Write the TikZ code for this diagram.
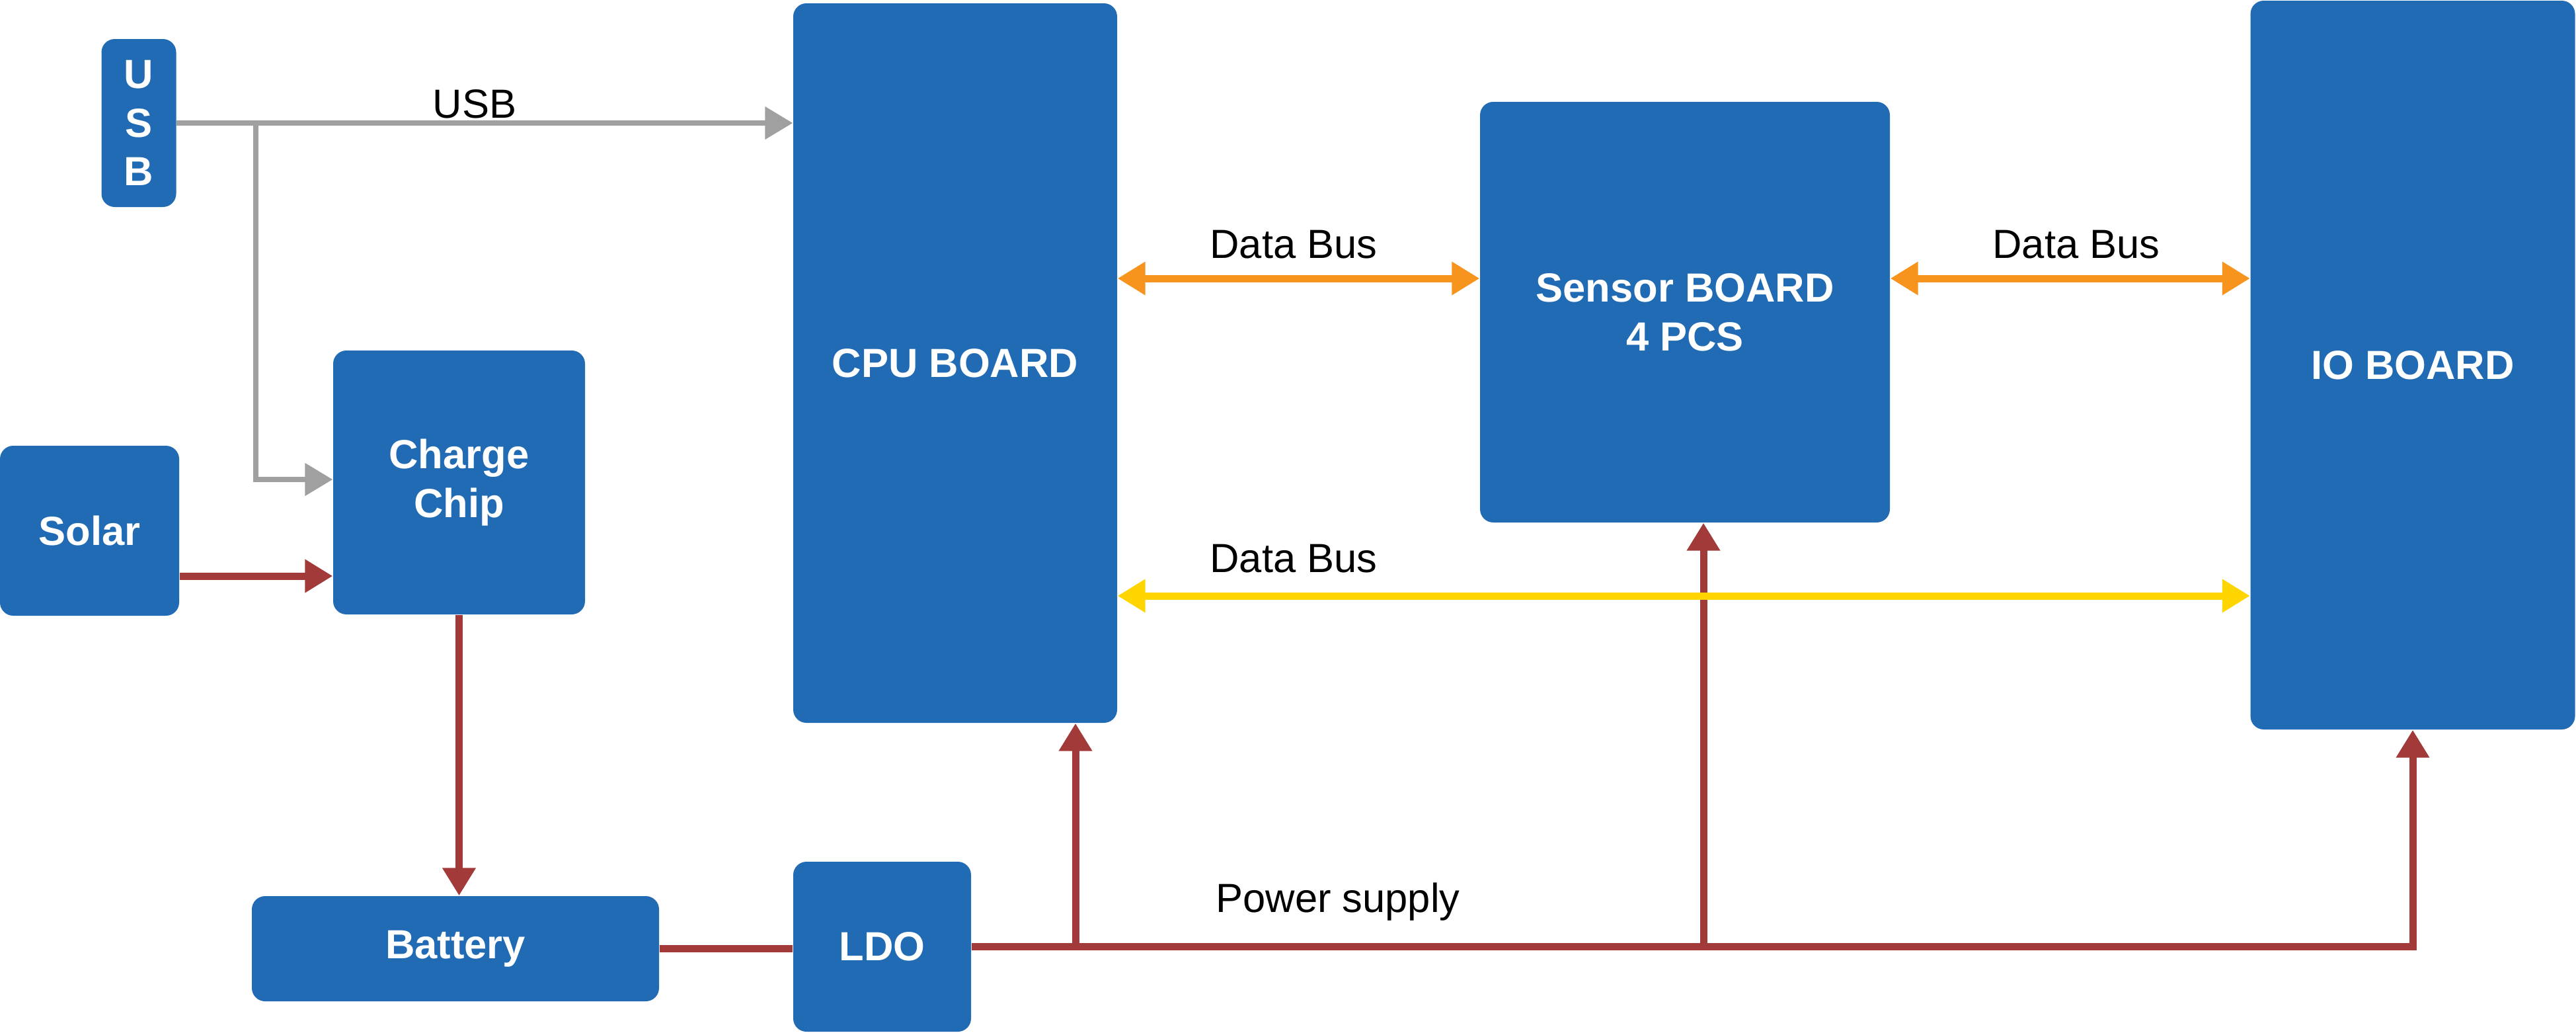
\documentclass[tikz,border=0pt]{standalone}
\usepackage{fontspec}
\setmainfont{Liberation Sans}
\usetikzlibrary{calc,arrows.meta}

\definecolor{boxblue}{HTML}{216BB5}
\definecolor{pwrred}{HTML}{A33A3A}
\definecolor{busorange}{HTML}{F7941E}
\definecolor{busyellow}{HTML}{FFD500}
\definecolor{usbgray}{HTML}{A0A0A0}

\tikzset{
  tri/.tip={Triangle[length=0.42cm,width=0.48cm]},
  blk/.style={rectangle, rounded corners=0.2cm, fill=boxblue, text=white,
    align=center, inner sep=0pt, font=\bfseries\fontsize{17.5}{21}\selectfont},
  lbl/.style={inner sep=0pt, font=\fontsize{17.5}{21}\selectfont},
  pwr/.style={draw=pwrred, line width=0.11cm},
  usbline/.style={draw=usbgray, line width=0.08cm},
}

\begin{document}
\begin{tikzpicture}
    \useasboundingbox (0,0) rectangle (38.97,-15.61);
    % boxes
    \node[blk, minimum width=1.13cm, minimum height=2.54cm] (usb) at (2.10,-1.86) {U\\S\\B};
    \node[blk, minimum width=4.90cm, minimum height=10.88cm] (cpu) at (14.45,-5.49) {CPU BOARD};
    \node[blk, minimum width=6.20cm, minimum height=6.36cm] (sensor) at (25.49,-4.72) {Sensor BOARD\\4 PCS};
    \node[blk, minimum width=4.91cm, minimum height=11.02cm] (io) at (36.50,-5.52) {IO BOARD};
    \node[blk, minimum width=3.81cm, minimum height=3.99cm] (charge) at (6.945,-7.295) {Charge\\Chip};
    \node[blk, minimum width=2.71cm, minimum height=2.57cm] (solar) at (1.355,-8.025) {Solar};
    \node[blk, minimum width=6.16cm, minimum height=1.59cm] (battery) at (6.89,-14.345) {Battery};
    \node[blk, minimum width=2.69cm, minimum height=2.57cm] (ldo) at (13.345,-14.315) {LDO};

    % usb
    \coordinate (usbsplit) at (3.87,-1.86);
    \coordinate (chargein) at (0,-7.25);
    \draw[usbline, -tri] (usb.east) -- (usb.east -| cpu.west);
    \draw[usbline, -tri] (usbsplit) |- (charge.west |- chargein);
    \node[lbl] (usblbl) at (7.18,-1.57) {USB};

    % solar and battery
    \coordinate (solarout) at (0,-8.71);
    \draw[pwr, -tri] (solar.east |- solarout) -- (charge.west |- solarout);
    \draw[pwr, -tri] (charge.south) -- (charge.south |- battery.north);
    \draw[pwr] (battery.east) -- (battery.east -| ldo.west);

    % power supply
    \coordinate (tapcpu) at (16.27,-14.315);
    \coordinate (tapsensor) at (25.77,-14.315);
    \draw[pwr, -tri] (ldo.east) -| (io.south);
    \draw[pwr, -tri] (tapcpu) -- (tapcpu |- cpu.south);
    \draw[pwr, -tri] (tapsensor) -- (tapsensor |- sensor.south);
    \node[lbl] (pwrlbl) at (20.24,-13.64) {Power supply};

    % data buses
    \coordinate (busa) at (0,-4.21);
    \coordinate (busb) at (0,-9.01);
    \draw[busorange, line width=0.11cm, tri-tri] (cpu.east |- busa) -- (sensor.west |- busa);
    \draw[busorange, line width=0.11cm, tri-tri] (sensor.east |- busa) -- (io.west |- busa);
    \draw[busyellow, line width=0.11cm, tri-tri] (cpu.east |- busb) -- (io.west |- busb);
    \node[lbl] (buslbla) at (19.57,-3.70) {Data Bus};
    \node[lbl] (buslblb) at (31.41,-3.70) {Data Bus};
    \node[lbl] (buslblc) at (19.57,-8.45) {Data Bus};
\end{tikzpicture}
\end{document}
